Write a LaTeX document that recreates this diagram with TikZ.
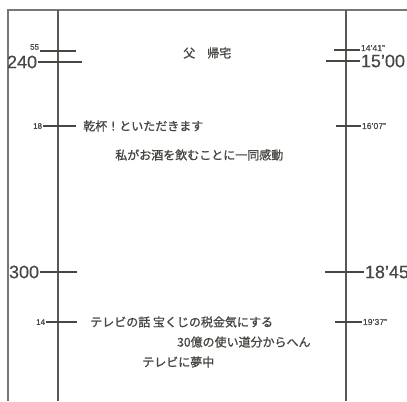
\documentclass[tikz,border=0pt]{standalone}
\usepackage{fontspec}
\setmainfont{Liberation Sans}[FakeBold=0.4]
\newfontfamily\jp{Noto Sans CJK JP}[FakeBold=1.2]
\definecolor{ink}{RGB}{70,70,66}
\definecolor{frame}{RGB}{120,120,115}
\tikzset{
  big/.style={font=\fontsize{13.5}{14}\selectfont, text=ink, inner sep=0.5pt},
  small/.style={font=\fontsize{6}{7}\selectfont, text=ink, inner sep=0.5pt},
  rsmall/.style={font=\fontsize{6.5}{7}\selectfont, text=ink, inner sep=0.5pt},
  jtext/.style={font=\jp\fontsize{9}{10}\selectfont, text=ink, inner sep=0pt, anchor=west},
  tick/.style={draw=ink, line width=1.1pt},
  axis/.style={draw=ink!90, line width=1.6pt},
  border/.style={draw=frame, line width=0.9pt}
}
\begin{document}
\begin{tikzpicture}[x=0.75pt,y=-0.75pt]
\useasboundingbox (0,0) rectangle (407,401);
% frame and time axes
\coordinate (tl) at (8,10);
\coordinate (bl) at (8,401);
\coordinate (tr) at (407,10);
\coordinate (a1t) at (58,10);
\coordinate (a1b) at (58,401);
\coordinate (a2t) at (346,10);
\coordinate (a2b) at (346,401);
\draw[border] (bl) -- (tl) -- (tr);
\draw[axis] (a1t) -- (a1b);
\draw[axis] (a2t) -- (a2b);

% left labels and ticks
\node[small, anchor=east] (n55) at (40,47) {55};
\coordinate (e55) at (76,51);
\draw[tick] (40,51) coordinate (s55) -- (e55);
\node[big, anchor=east] (n240) at (38,62) {240};
\coordinate (e240) at (82,62);
\draw[tick] (n240.east) -- (e240);
\node[small, anchor=east] (n18) at (43,126) {18};
\coordinate (e18) at (76,126);
\draw[tick] (n18.east) -- (e18);
\node[big, anchor=east] (n300) at (40,272) {300};
\coordinate (e300) at (77,272);
\draw[tick] (n300.east) -- (e300);
\node[small, anchor=east] (n14) at (46,322) {14};
\coordinate (e14) at (77,322);
\draw[tick] (n14.east) -- (e14);

% right labels and ticks
\node[rsmall, anchor=west] (r1441) at (360,48) {14'41"};
\coordinate (s1441) at (334,50);
\draw[tick] (s1441) -- (r1441.west |- s1441);
\node[big, anchor=west] (r1500) at (360,61) {15'00};
\coordinate (s1500) at (326,61);
\draw[tick] (s1500) -- (r1500.west);
\node[rsmall, anchor=west] (r1607) at (361,126) {16'07"};
\coordinate (s1607) at (336,126);
\draw[tick] (s1607) -- (r1607.west);
\node[big, anchor=west] (r1845) at (364,272) {18'45};
\coordinate (s1845) at (325,272);
\draw[tick] (s1845) -- (r1845.west);
\node[rsmall, anchor=west] (r1937) at (362,322) {19'37"};
\coordinate (s1937) at (335,322);
\draw[tick] (s1937) -- (r1937.west);

% events
\node[jtext] (t1) at (183,53) {父　帰宅};
\node[jtext] (t2) at (83,126) {乾杯！といただきます};
\node[jtext] (t3) at (115,155) {私がお酒を飲むことに一同感動};
\node[jtext] (t4) at (90,322) {テレビの話 宝くじの税金気にする};
\node[jtext] (t5) at (177,342) {30億の使い道分からへん};
\node[jtext] (t6) at (142,362) {テレビに夢中};
\end{tikzpicture}
\end{document}
